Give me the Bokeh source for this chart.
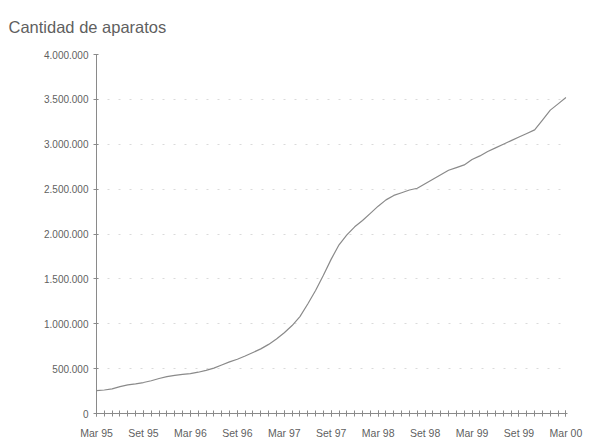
from bokeh.plotting import figure
from bokeh.models import Range1d, FixedTicker, CustomJSTickFormatter, Title
from bokeh.embed import file_html
from bokeh.resources import INLINE

# Monthly count of devices, Mar 95 .. Mar 00 (61 months)
months = list(range(61))
aparatos = [
    255000, 262000, 275000, 300000, 318000, 330000, 345000, 365000, 390000, 410000,
    425000, 435000, 445000, 460000, 480000, 505000, 540000, 575000, 605000, 640000,
    680000, 720000, 770000, 830000, 900000, 980000, 1080000, 1220000, 1370000, 1540000,
    1720000, 1880000, 1990000, 2080000, 2150000, 2230000, 2310000, 2380000, 2430000, 2460000,
    2490000, 2510000, 2560000, 2610000, 2660000, 2710000, 2740000, 2770000, 2830000, 2870000,
    2920000, 2960000, 3000000, 3040000, 3080000, 3120000, 3160000, 3270000, 3380000, 3450000,
    3520000,
]
tick_positions = [0, 6, 12, 18, 24, 30, 36, 42, 48, 54, 60]
tick_labels = ["Mar 95", "Set 95", "Mar 96", "Set 96", "Mar 97", "Set 97",
               "Mar 98", "Set 98", "Mar 99", "Set 99", "Mar 00"]
y_ticks = [0, 500000, 1000000, 1500000, 2000000, 2500000, 3000000, 3500000, 4000000]
titulo = "Cantidad de aparatos"

FONT = "Liberation Sans"
TEXT = "#5f5f5f"
LINE = "#8a8a8a"

p = figure(width=593, height=441, output_backend="svg", toolbar_location=None,
           x_range=Range1d(0, 60.2), y_range=Range1d(0, 4000000),
           min_border_left=96, min_border_right=26, min_border_top=54, min_border_bottom=25)
p.outline_line_color = None
p.background_fill_color = "white"
p.border_fill_color = "white"

title = Title(text=titulo, align="left", offset=-88, standoff=33, vertical_align="top",
              text_font=FONT, text_font_size="16.5px", text_font_style="normal",
              text_color=TEXT)
p.add_layout(title, "above")

p.line(months, aparatos, line_color=LINE, line_width=1.2)

# x axis
p.xaxis.ticker = FixedTicker(ticks=tick_positions, minor_ticks=months)
p.xaxis.major_label_overrides = {t: l for t, l in zip(tick_positions, tick_labels)}
p.xaxis.major_tick_in = 3
p.xaxis.major_tick_out = 3
p.xaxis.minor_tick_in = 3
p.xaxis.minor_tick_out = 3
p.xaxis.major_label_standoff = 10
p.xaxis.major_label_text_font = FONT
p.xaxis.major_label_text_font_size = "10.5px"
p.xaxis.major_label_text_color = TEXT
p.xaxis.axis_line_color = LINE
p.xaxis.major_tick_line_color = LINE
p.xaxis.minor_tick_line_color = LINE

# y axis
p.yaxis.ticker = FixedTicker(ticks=y_ticks)
p.yaxis.formatter = CustomJSTickFormatter(
    code="return tick.toFixed(0).replace(/\\B(?=(\\d{3})+(?!\\d))/g, '.');")
p.yaxis.major_tick_in = 2
p.yaxis.major_tick_out = 3
p.yaxis.minor_tick_line_color = None
p.yaxis.major_label_standoff = 5
p.yaxis.major_label_text_font = FONT
p.yaxis.major_label_text_font_size = "10px"
p.yaxis.major_label_text_color = TEXT
p.yaxis.axis_line_color = LINE
p.yaxis.major_tick_line_color = LINE

p.xgrid.grid_line_color = None
p.ygrid.ticker = FixedTicker(ticks=y_ticks[1:])
p.ygrid.grid_line_color = "#dadada"
p.ygrid.grid_line_dash = "2 9"
p.ygrid.grid_line_width = 1

open("out.html", "w").write(file_html(p, INLINE))
